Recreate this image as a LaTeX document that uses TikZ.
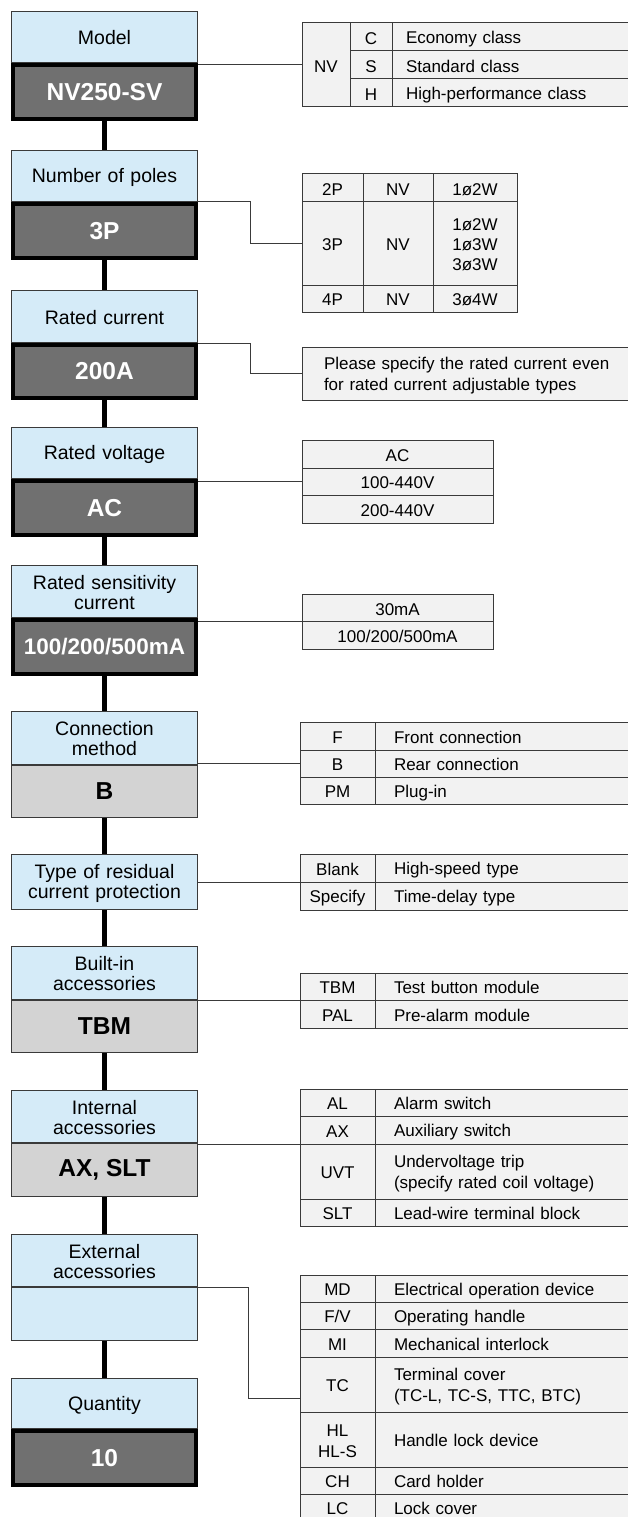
\documentclass[tikz,border=0pt]{standalone}
\usepackage{fontspec}
\setmainfont{Liberation Sans}

\definecolor{boxblue}{HTML}{D5EBF8}
\definecolor{boxdark}{HTML}{707070}
\definecolor{boxgray}{HTML}{D3D3D3}
\definecolor{cellgray}{HTML}{F2F2F2}
\definecolor{edge}{HTML}{3A3A3A}
\newcommand{\topstrut}[1]{\rule{0pt}{#1}}
\newcommand{\botstrut}{\rule[-2.5pt]{0pt}{2.5pt}}

\begin{document}
\begin{tikzpicture}[x=1pt, y=-1pt,
  lbl/.style={draw=edge, fill=boxblue, line width=1pt, minimum width=186pt, text width=184pt, align=center, inner sep=0pt, font=\fontsize{19.5}{20}\selectfont, execute at begin node=\topstrut{17.5pt}, execute at end node=\botstrut},
  valdark/.style={draw=black, fill=boxdark, line width=4pt, minimum width=183pt, inner sep=0pt, text=white, font=\fontsize{24.5}{26}\selectfont\bfseries},
  vallight/.style={draw=edge, fill=boxgray, line width=1pt, minimum width=186pt, inner sep=0pt, font=\fontsize{24.5}{26}\selectfont\bfseries},
  cell/.style={draw=edge, fill=cellgray, line width=1pt, inner sep=0pt, outer sep=0pt, anchor=north west, font=\fontsize{17}{21}\selectfont, execute at begin node=\topstrut{17pt}, execute at end node=\botstrut},
  ctr/.style={cell, align=center},
  dsc/.style={cell, align=left, inner xsep=14pt},
  spine/.style={line width=5pt},
  link/.style={draw=edge, line width=1pt}]
\useasboundingbox (0,0) rectangle (628,1517);
\clip (0,0) rectangle (628,1517);
% left column: step labels and chosen values
\foreach \i/\t/\s/\txt in {1/11/63/Model, 2/150/202/Number of poles, 3/290/343/Rated current,
  4/427/479/Rated voltage, 5/565/618/{Rated sensitivity\\current}, 6/711/765/{Connection\\method},
  7/854/910/{Type of residual\\current protection}, 8/946/1000/{Built-in\\accessories},
  9/1090/1143/{Internal\\accessories}, 10/1234/1287/{External\\accessories}, 11/1378/1429/Quantity}
  \node[lbl, minimum height={\s-\t-1}] (l\i) at (104.5,{(\t+\s)/2}) {\txt};
\foreach \i/\s/\b/\txt in {1/63/121/NV250-SV, 2/202/260/3P, 3/343/400/200A, 4/479/537/AC,
  5/618/676/{\fontsize{22.5}{24}\selectfont 100/200/500mA}, 11/1429/1487/10}
  \node[valdark, minimum height={\b-\s-4}] (v\i) at (104.5,{(\s+\b)/2}) {\txt};
\foreach \i/\s/\b/\txt in {6/765/818/B, 8/1000/1053/TBM, 9/1143/1197/{AX, SLT}}
  \node[vallight, minimum height={\b-\s-1}] (v\i) at (104.5,{(\s+\b)/2}) {\txt};
\node[vallight, fill=boxblue, minimum height=53] (v10) at (104.5,1314) {};
\foreach \a/\b in {v1/l2,v2/l3,v3/l4,v4/l5,v5/l6,v6/l7,l7/l8,v8/l9,v9/l10,v10/l11}
  \draw[spine] (\a.south) -- (\b.north);
% model table
\node[ctr, text width=48pt, minimum height=84pt] (m0) at (302,23) {NV};
\foreach \t/\y/\c/\d in {mc/23/C/Economy class, ms/51/S/Standard class, mh/79/H/High-performance class}{
  \node[ctr, text width=42pt, minimum height=28pt] (\t) at (350,\y) {\c};
  \node[dsc, text width=220pt, minimum height=28pt] (\t-d) at (392,\y) {\d};}
% poles table
\foreach \t/\y/\h/\p/\w in {p2/174/28/2P/1ø2W, p3/202/83/3P/{1ø2W\\[-1pt]1ø3W\\[-1pt]3ø3W}, p4/285/27/4P/3ø4W}{
  \node[ctr, text width=61pt, minimum height=\h] (\t) at (302,\y) {\p};
  \node[ctr, text width=70pt, minimum height=\h] (\t-nv) at (363,\y) {NV};
  \node[ctr, text width=84pt, minimum height=\h] (\t-w) at (433,\y) {\w};}
% rated current note
\node[cell, text width=282pt, inner xsep=22pt, minimum height=53pt, align=left] (note) at (302,347)
  {\mbox{Please specify the rated current even}\\for rated current adjustable types};
% voltage and sensitivity tables
\foreach \t/\y/\h/\v in {va0/440/28/AC, va1/468/27/100-440V, va2/495/28/200-440V,
  sa0/594/27.5/30mA, sa1/621.5/27.5/{100/200/500mA}}
  \node[ctr, text width=191pt, minimum height=\h] (\t) at (302,\y) {\v};
% two-column tables
\foreach \t/\y/\h/\c/\d in {
  cf/722/28/F/Front connection, cb/750/27/B/Rear connection, cpm/777/27/PM/Plug-in,
  rbl/854/28/Blank/High-speed type, rsp/882/28/Specify/Time-delay type,
  btbm/973/27/TBM/Test button module, bpal/1000/28/PAL/Pre-alarm module,
  ial/1089/27/AL/Alarm switch, iax/1116/28/AX/Auxiliary switch,
  iuvt/1144/55/UVT/{Undervoltage trip\\(specify rated coil voltage)}, islt/1199/27/SLT/Lead-wire terminal block,
  emd/1275/27/MD/Electrical operation device, efv/1302/27/{F/V}/Operating handle,
  emi/1329/28/MI/Mechanical interlock, etc/1357/55/TC/{Terminal cover\\(TC-L, TC-S, TTC, BTC)},
  ehl/1412/55/{HL\\HL-S}/Handle lock device, ech/1467/27/CH/Card holder, elc/1494/27/LC/Lock cover}{
  \node[ctr, text width=75pt, minimum height=\h] (\t) at (300,\y) {\c};
  \node[dsc, inner xsep=19pt, text width=227pt, minimum height=\h] (\t-d) at (375,\y) {\d};}
% links from steps to tables
\coordinate (ein) at (300,1398);
\draw[link] (m0.west) -- (m0.west -| v1.east);
\draw[link] (l2.south east) -- ++(52,0) |- (p3.west);
\draw[link] (l3.south east) -- ++(52,0) |- (note.west);
\draw[link] (va1.west) -- (va1.west -| v4.east);
\draw[link] (sa0.south west) -- (sa0.south west -| v5.east);
\draw[link] (cb.west) -- (cb.west -| v6.east);
\draw[link] (l7.east) -- (l7.east -| rbl.west);
\draw[link] (btbm.south west) -- (btbm.south west -| v8.east);
\draw[link] (iax.south west) -- (iax.south west -| v9.east);
\draw[link] (l10.south east) -- ++(50,0) |- (ein);
\end{tikzpicture}
\end{document}
